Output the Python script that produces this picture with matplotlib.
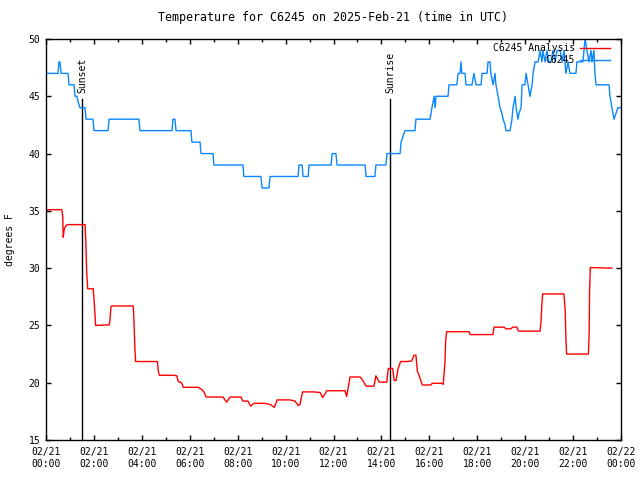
import datetime as dt
import matplotlib
matplotlib.use('Agg')
from matplotlib import pyplot as plt
import matplotlib.dates as mdates

# station observations (hours after 00:00 UTC, deg F)
obs_hours = [0.00, 0.50, 0.54, 0.58, 0.63, 0.92, 0.96, 1.17, 1.21, 1.29, 1.34, 1.42,
             1.63, 1.67, 1.96, 2.00, 2.59, 2.63, 3.88, 3.92, 5.26, 5.30, 5.38, 5.43,
             6.05, 6.09, 6.43, 6.47, 6.97, 7.01, 8.22, 8.26, 8.97, 9.02, 9.31, 9.35,
             10.52, 10.56, 10.69, 10.73, 10.94, 10.98, 11.90, 11.94, 12.10, 12.15,
             13.32, 13.36, 13.73, 13.77, 14.19, 14.23, 14.78, 14.82, 14.90, 14.98,
             15.40, 15.44, 16.03, 16.11, 16.20, 16.24, 16.28, 16.78, 16.82, 17.15,
             17.20, 17.28, 17.32, 17.36, 17.49, 17.53, 17.78, 17.86, 17.95, 18.16,
             18.20, 18.41, 18.45, 18.53, 18.57, 18.66, 18.74, 18.78, 18.87, 18.95,
             19.03, 19.08, 19.16, 19.20, 19.37, 19.45, 19.49, 19.58, 19.62, 19.70,
             19.74, 19.83, 19.87, 19.99, 20.04, 20.12, 20.20, 20.29, 20.33, 20.41,
             20.54, 20.62, 20.70, 20.74, 20.83, 20.91, 20.99, 21.08, 21.16, 21.25,
             21.33, 21.46, 21.54, 21.62, 21.66, 21.70, 21.79, 21.87, 22.12, 22.16,
             22.41, 22.50, 22.58, 22.66, 22.75, 22.79, 22.87, 22.91, 22.96, 23.50,
             23.54, 23.62, 23.71, 23.79, 23.87, 24.00]
obs_temps = [47, 47, 48, 48, 47, 47, 46, 46, 45, 45, 44.5, 44,
             44, 43, 43, 42, 42, 43, 43, 42, 42, 43, 43, 42,
             42, 41, 41, 40, 40, 39, 39, 38, 38, 37, 37, 38,
             38, 39, 39, 38, 38, 39, 39, 40, 40, 39,
             39, 38, 38, 39, 39, 40, 40, 41, 41.5, 42,
             42, 43, 43, 44, 45, 44, 45, 45, 46, 46,
             47, 47, 48, 47, 47, 46, 46, 47, 46, 46,
             47, 47, 48, 48, 47, 46, 47, 46, 45, 44,
             43.5, 43, 42.5, 42, 42, 43, 44, 45, 44, 43,
             43.5, 44, 46, 46, 47, 46, 45, 46, 47, 48,
             48, 49, 48, 49, 48, 49, 48, 48, 49, 48,
             49, 49, 48, 49, 48, 47, 48, 47, 47, 48,
             48, 50, 49, 48, 49, 48, 49, 47, 46, 46,
             45, 44, 43, 43.5, 44, 44]

# model analysis
ana_hours = [0.00, 0.66, 0.70, 0.71, 0.72, 0.76, 0.83, 0.89, 1.63, 1.66, 1.70, 1.74,
             1.97, 2.00, 2.05, 2.07, 2.64, 2.67, 2.71, 2.74, 3.64, 3.67, 3.71, 3.74,
             4.65, 4.69, 4.73, 5.34, 5.46, 5.52, 5.66, 5.73, 6.36, 6.50, 6.59, 6.69,
             7.39, 7.47, 7.54, 7.68, 8.14, 8.21, 8.43, 8.54, 8.68, 9.14, 9.35, 9.53,
             9.65, 10.18, 10.39, 10.53, 10.60, 10.71, 11.16, 11.44, 11.55, 11.72,
             12.48, 12.55, 12.69, 13.11, 13.19, 13.36, 13.69, 13.77, 13.91, 14.22,
             14.29, 14.47, 14.53, 14.61, 14.70, 14.80, 15.08, 15.26, 15.36, 15.44,
             15.50, 15.58, 15.64, 15.71, 16.06, 16.12, 16.52, 16.58, 16.65, 16.68,
             16.72, 17.67, 17.70, 18.65, 18.70, 19.12, 19.20, 19.40, 19.48, 19.65,
             19.72, 20.62, 20.66, 20.70, 20.73, 21.62, 21.67, 21.70, 21.73, 22.64,
             22.67, 22.69, 22.72, 23.62]
ana_temps = [35.1, 35.1, 34.5, 33.4, 32.7, 33.4, 33.7, 33.8, 33.8, 32.4, 29.6, 28.2,
             28.2, 27.4, 25.8, 25.0, 25.05, 25.5, 26.6, 26.7, 26.7, 25.5, 23.0, 21.85,
             21.85, 21.0, 20.65, 20.65, 20.6, 20.1, 20.0, 19.6, 19.6, 19.4, 19.2, 18.75,
             18.75, 18.5, 18.3, 18.75, 18.75, 18.4, 18.4, 17.95, 18.2, 18.2, 18.1, 17.85,
             18.5, 18.5, 18.4, 18.0, 18.1, 19.2, 19.2, 19.15, 18.7, 19.3,
             19.3, 18.8, 20.5, 20.5, 20.3, 19.7, 19.7, 20.6, 20.05, 20.05,
             21.25, 21.25, 20.2, 20.2, 21.25, 21.85, 21.85, 21.9, 22.4, 22.4,
             21.0, 20.6, 20.2, 19.8, 19.8, 19.95, 19.95, 19.85, 21.7, 23.6,
             24.45, 24.45, 24.2, 24.2, 24.85, 24.85, 24.7, 24.7, 24.85, 24.85,
             24.5, 24.5, 25.3, 26.9, 27.75, 27.75, 26.35, 23.9, 22.5, 22.5,
             24.3, 28.1, 30.05, 30.0]

sunset_hour = 1.5
sunrise_hour = 14.36

day = dt.datetime(2025, 2, 21)


def to_times(hours):
    return [day + dt.timedelta(hours=h) for h in hours]


plt.rcParams['font.family'] = 'DejaVu Sans Mono'
plt.rcParams['font.size'] = 7

fig = plt.figure(figsize=(6.4, 4.8), dpi=100)
ax = fig.add_axes([46 / 640, 40 / 480, 575 / 640, 401 / 480])

# sunset / sunrise markers
for h, name in [(sunset_hour, 'Sunset'), (sunrise_hour, 'Sunrise')]:
    t = day + dt.timedelta(hours=h)
    ax.plot([t, t], [0, 0.85], color='black', lw=1.0,
            transform=ax.get_xaxis_transform())
    ax.text(t, 0.866, name, rotation=90, ha='center', va='bottom',
            transform=ax.get_xaxis_transform())

ax.plot(to_times(ana_hours), ana_temps, color='#ff0000', lw=1.0,
        label='C6245 Analysis')
ax.plot(to_times(obs_hours), obs_temps, color='#0a87ff', lw=1.0,
        label='C6245')

ax.set_xlim(day, day + dt.timedelta(hours=24))
ax.set_ylim(15, 50)
ax.set_yticks(range(15, 51, 5))
ax.xaxis.set_major_locator(mdates.HourLocator(byhour=range(0, 24, 2)))
ax.xaxis.set_minor_locator(mdates.HourLocator())
ax.xaxis.set_major_formatter(mdates.DateFormatter('%m/%d\n%H:%M'))

ax.tick_params(which='both', direction='in', top=True, right=True, width=1)
ax.tick_params(which='major', length=3.3)
ax.tick_params(which='minor', length=2.2)
ax.tick_params(axis='y', pad=4)
ax.tick_params(axis='x', pad=5)
for s in ax.spines.values():
    s.set_linewidth(1)

ax.set_ylabel('degrees F', labelpad=10)
ax.set_title('Temperature for C6245 on 2025-Feb-21 (time in UTC)', pad=13)

ax.legend(loc='upper right', bbox_to_anchor=(0.981, 0.99), frameon=False,
          markerfirst=False, borderpad=0, borderaxespad=0, handlelength=3.1,
          handletextpad=0.5, labelspacing=0.2)

fig.savefig('out.png', dpi=100)
